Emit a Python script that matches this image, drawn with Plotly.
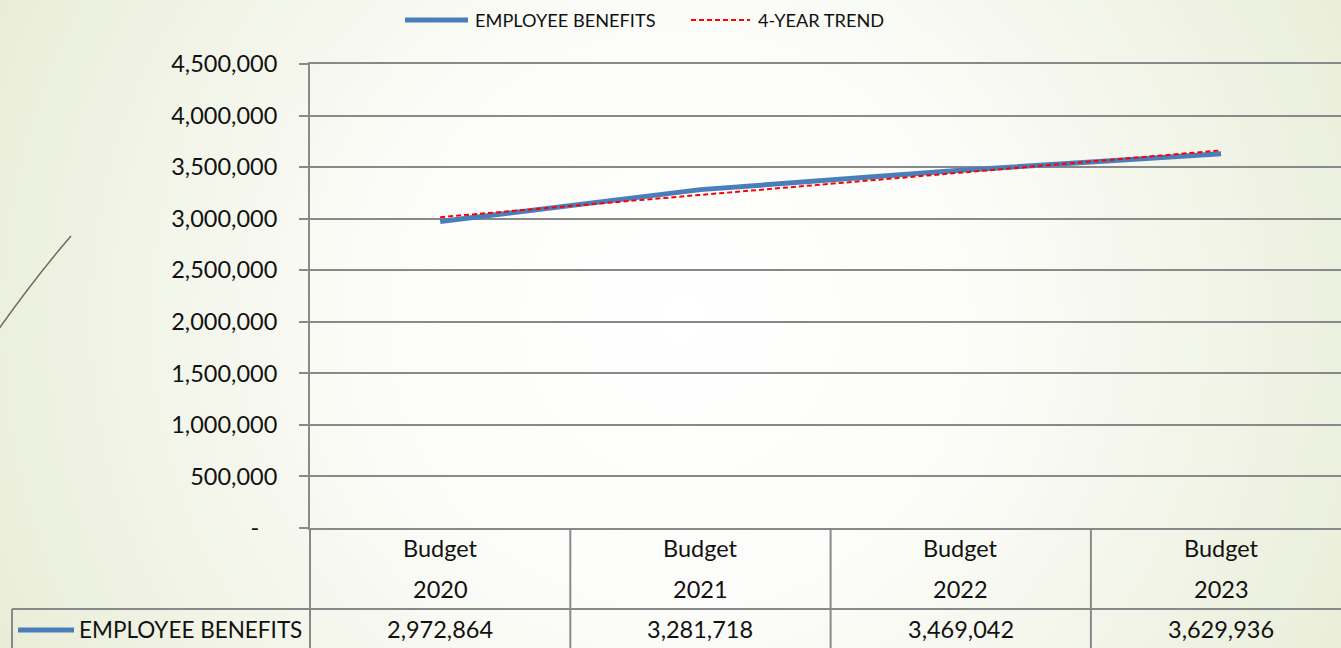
import base64
import plotly.graph_objects as go

# ---------------- data ----------------
categories = ["2020", "2021", "2022", "2023"]
category_prefix = "Budget"
series_name = "EMPLOYEE BENEFITS"
benefits = [2972864, 3281718, 3469042, 3629936]
trend_name = "4-YEAR TREND"
trend = [3014600, 3230500, 3446300, 3662200]
y_tickvals = [0, 500000, 1000000, 1500000, 2000000, 2500000, 3000000, 3500000, 4000000, 4500000]
y_ticktext = ["-\u00a0\u00a0\u00a0", "500,000", "1,000,000", "1,500,000", "2,000,000", "2,500,000",
              "3,000,000", "3,500,000", "4,000,000", "4,500,000"]

# ---------------- layout geometry ----------------
W, H = 1341, 648
L, R, T, B = 310, 0, 64, 120
PW = W - L - R
PH = H - T - B
CAT_W = 260.3

def px2x(px):
    return (px - L) / PW

def py2y(py):
    return (H - B - py) / PH

BLUE = "#4A7EBB"
RED = "#FF0000"
GRID = "#898989"
TXT = "#111111"
FONT = "Lato"

fig = go.Figure()
fig.add_trace(go.Scatter(x=categories, y=benefits, mode="lines", name=series_name,
                         line=dict(color=BLUE, width=5), showlegend=False, hoverinfo="skip"))
fig.add_trace(go.Scatter(x=categories, y=trend, mode="lines", name=trend_name,
                         line=dict(color=RED, width=2, dash="5px,3px"), showlegend=False, hoverinfo="skip"))

# background gradient
svg = (f'<svg xmlns="http://www.w3.org/2000/svg" width="{W}" height="{H}" viewBox="0 0 {W} {H}">'
       '<defs><radialGradient id="g" gradientUnits="userSpaceOnUse" cx="680" cy="320" r="820">'
       '<stop offset="0" stop-color="#ffffff"/><stop offset="0.35" stop-color="#fcfdfa"/>'
       '<stop offset="1" stop-color="#e6ebd3"/></radialGradient></defs>'
       f'<rect width="{W}" height="{H}" fill="url(#g)"/></svg>')
src = "data:image/svg+xml;base64," + base64.b64encode(svg.encode()).decode()

shapes = []
# decorative curve
shapes.append(dict(type="path", xref="paper", yref="paper",
                   path=f"M {px2x(71)},{py2y(236)} Q {px2x(38)},{py2y(274)} {px2x(-2)},{py2y(330)}",
                   line=dict(color="#6f6a58", width=1.5)))
# legend keys
shapes.append(dict(type="line", xref="paper", yref="paper", x0=px2x(405), x1=px2x(468),
                   y0=py2y(20), y1=py2y(20), line=dict(color=BLUE, width=5)))
shapes.append(dict(type="line", xref="paper", yref="paper", x0=px2x(691), x1=px2x(750),
                   y0=py2y(20), y1=py2y(20), line=dict(color=RED, width=2, dash="5px,3px")))
# table lines
shapes.append(dict(type="line", xref="paper", yref="paper", x0=px2x(12), x1=px2x(W + 5),
                   y0=py2y(609), y1=py2y(609), line=dict(color=GRID, width=2)))
shapes.append(dict(type="line", xref="paper", yref="paper", x0=px2x(12), x1=px2x(12),
                   y0=py2y(609), y1=py2y(H + 5), line=dict(color=GRID, width=2)))
shapes.append(dict(type="line", xref="paper", yref="paper", x0=px2x(310), x1=px2x(310),
                   y0=py2y(528), y1=py2y(H + 5), line=dict(color=GRID, width=2)))
for i in range(len(categories) - 1):
    shapes.append(dict(type="line", xref="x", yref="paper", x0=i + 0.5, x1=i + 0.5,
                       y0=py2y(528), y1=py2y(H + 5), line=dict(color=GRID, width=2)))
# table legend key
shapes.append(dict(type="line", xref="paper", yref="paper", x0=px2x(18), x1=px2x(74),
                   y0=py2y(630), y1=py2y(630), line=dict(color=BLUE, width=5)))

annotations = []
annotations.append(dict(xref="paper", yref="paper", x=px2x(473), y=py2y(20), xanchor="left",
                        yanchor="middle", text=series_name, showarrow=False,
                        font=dict(family=FONT, size=18.2, color=TXT)))
annotations.append(dict(xref="paper", yref="paper", x=px2x(756), y=py2y(20), xanchor="left",
                        yanchor="middle", text=trend_name, showarrow=False,
                        font=dict(family=FONT, size=18.2, color=TXT)))
annotations.append(dict(xref="paper", yref="paper", x=px2x(77), y=py2y(629), xanchor="left",
                        yanchor="middle", text=series_name, showarrow=False,
                        font=dict(family=FONT, size=22.5, color=TXT)))
for i, (cat, val) in enumerate(zip(categories, benefits)):
    annotations.append(dict(xref="x", yref="paper", x=i, y=py2y(548), xanchor="center",
                            yanchor="middle", text=category_prefix, showarrow=False,
                            font=dict(family=FONT, size=23.5, color=TXT)))
    annotations.append(dict(xref="x", yref="paper", x=i, y=py2y(589), xanchor="center",
                            yanchor="middle", text=cat, showarrow=False,
                            font=dict(family=FONT, size=23.5, color=TXT)))
    annotations.append(dict(xref="x", yref="paper", x=i, y=py2y(629), xanchor="center",
                            yanchor="middle", text=f"{val:,}", showarrow=False,
                            font=dict(family=FONT, size=23.5, color=TXT)))

fig.update_layout(
    width=W, height=H,
    margin=dict(l=L, r=R, t=T, b=B, pad=0),
    paper_bgcolor="#f4f7ec",
    plot_bgcolor="rgba(0,0,0,0)",
    showlegend=False,
    hovermode=False,
    images=[dict(source=src, xref="paper", yref="paper", x=px2x(0), y=py2y(0),
                 sizex=W / PW, sizey=H / PH, xanchor="left", yanchor="top",
                 sizing="stretch", layer="below")],
    shapes=shapes,
    annotations=annotations,
    xaxis=dict(type="category", range=[-0.5, -0.5 + PW / CAT_W], showticklabels=False,
               showgrid=False, zeroline=False, showline=True, mirror=True,
               linecolor=GRID, linewidth=2, ticks="", fixedrange=True),
    yaxis=dict(range=[0, 4500000], tickvals=y_tickvals, ticktext=y_ticktext,
               showgrid=True, gridcolor=GRID, gridwidth=2, zeroline=False,
               showline=True, linecolor=GRID, linewidth=2,
               ticks="outside", ticklen=9, tickwidth=2, tickcolor=GRID,
               ticklabelstandoff=17, automargin=False,
               tickfont=dict(family=FONT, size=23.5, color=TXT), fixedrange=True),
)

fig.write_html("out.html")
